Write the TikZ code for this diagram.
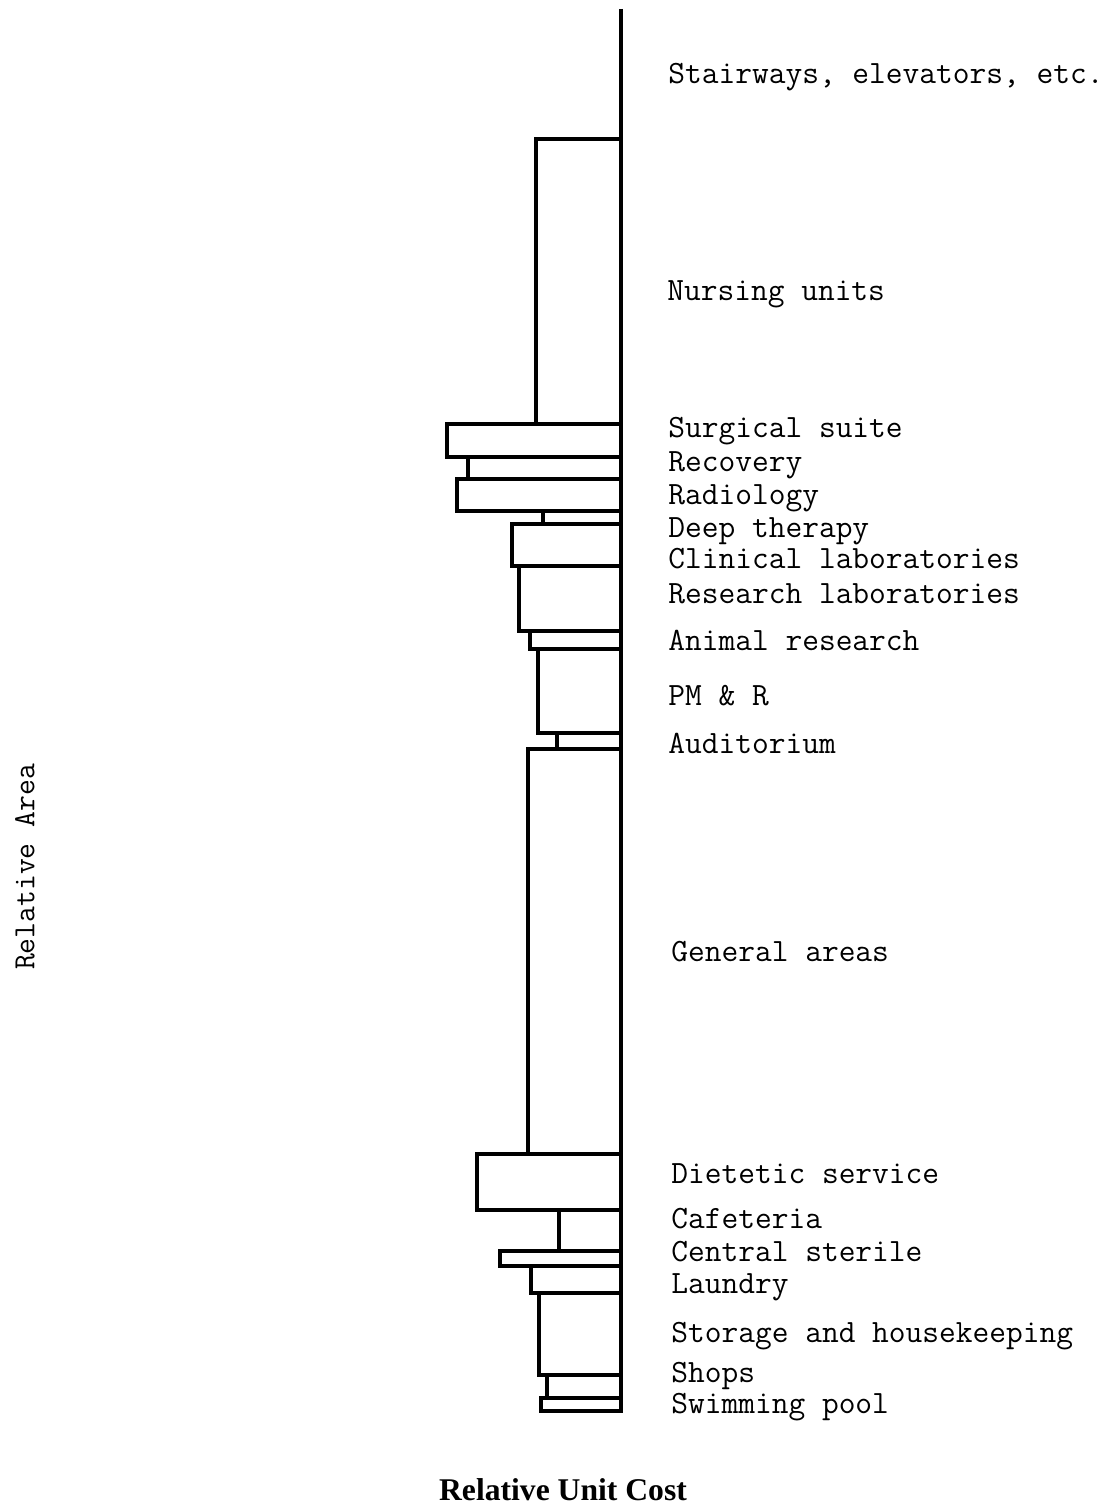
\documentclass[tikz,border=0pt]{standalone}
\usepackage{fontspec}
\usepackage{tikz}
\newfontfamily\costfont{Liberation Serif}

\tikzset{
	bar/.style={line width=2.4pt, line join=miter},
	unitlabel/.style={anchor=base west, inner sep=0pt, font=\ttfamily\fontsize{18.5}{20}\selectfont},
}

\begin{document}
\begin{tikzpicture}[x=0.02cm, y=-0.02cm]
	\useasboundingbox (0, 0) rectangle (1118, 1507);

	% bars, top to bottom
	\draw[bar] (536, 139) rectangle (621, 424);
	\draw[bar] (447, 424) rectangle (621, 457);
	\draw[bar] (468, 457) rectangle (621, 479);
	\draw[bar] (457, 479) rectangle (621, 511);
	\draw[bar] (543, 511) rectangle (621, 524);
	\draw[bar] (512, 524) rectangle (621, 566);
	\draw[bar] (519, 566) rectangle (621, 631);
	\draw[bar] (530, 631) rectangle (621, 649);
	\draw[bar] (538, 649) rectangle (621, 733);
	\draw[bar] (557, 733) rectangle (621, 749);
	\draw[bar] (528, 749) rectangle (621, 1154);
	\draw[bar] (477, 1154) rectangle (621, 1210);
	\draw[bar] (559, 1210) rectangle (621, 1251);
	\draw[bar] (500, 1251) rectangle (621, 1266);
	\draw[bar] (531, 1266) rectangle (621, 1293);
	\draw[bar] (539, 1293) rectangle (621, 1375);
	\draw[bar] (547, 1375) rectangle (621, 1398);
	\draw[bar] (541, 1398) rectangle (621, 1411);

	% axis
	\coordinate (axisTop) at (621, 9);
	\coordinate (axisBot) at (621, 1412);
	\draw[bar] (axisTop) -- (axisBot);

	% labels
	\node[unitlabel] (lblStair) at (668, 84) {Stairways, elevators, etc.};
	\node[unitlabel] (lblNursing) at (667, 300) {Nursing units};
	\node[unitlabel] (lblSurgical) at (668, 437) {Surgical suite};
	\node[unitlabel] (lblRecovery) at (668, 471) {Recovery};
	\node[unitlabel] (lblRadiology) at (668, 504) {Radiology};
	\node[unitlabel] (lblDeep) at (668, 537) {Deep therapy};
	\node[unitlabel] (lblClinical) at (668, 568) {Clinical laboratories};
	\node[unitlabel] (lblResearch) at (668, 603) {Research laboratories};
	\node[unitlabel] (lblAnimal) at (668, 650) {Animal research};
	\node[unitlabel] (lblPMR) at (668, 705) {PM \& R};
	\node[unitlabel] (lblAuditorium) at (668, 753) {Auditorium};
	\node[unitlabel] (lblGeneral) at (671, 961) {General areas};
	\node[unitlabel] (lblDietetic) at (671, 1183) {Dietetic service};
	\node[unitlabel] (lblCafeteria) at (671, 1228) {Cafeteria};
	\node[unitlabel] (lblSterile) at (671, 1261) {Central sterile};
	\node[unitlabel] (lblLaundry) at (671, 1293) {Laundry};
	\node[unitlabel] (lblStorage) at (671, 1342) {Storage and housekeeping};
	\node[unitlabel] (lblShops) at (671, 1382) {Shops};
	\node[unitlabel] (lblPool) at (671, 1413) {Swimming pool};

	\node[rotate=90, inner sep=0pt, font=\ttfamily\fontsize{17.5}{20}\selectfont] (lblArea) at (25, 867) {Relative Area};
	\node[anchor=base, inner sep=0pt, font=\costfont\bfseries\fontsize{18}{20}\selectfont] (lblCost) at (563, 1500) {Relative Unit Cost};
\end{tikzpicture}
\end{document}
